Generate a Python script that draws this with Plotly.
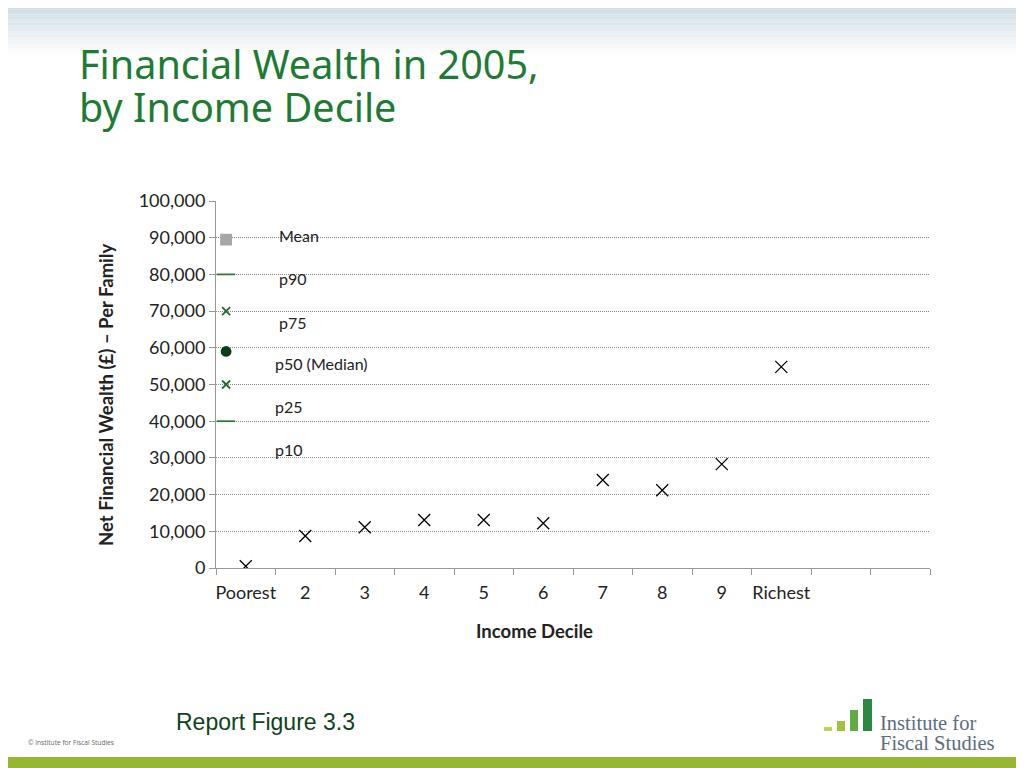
import plotly.graph_objects as go

# ---- data ----
categories = ["Poorest", "2", "3", "4", "5", "6", "7", "8", "9", "Richest", " ", "  "]
decile_labels = ["Poorest", "2", "3", "4", "5", "6", "7", "8", "9", "Richest"]
mean_wealth = [500, 8700, 11100, 13100, 13100, 12200, 24000, 21200, 28300, 54800]

# legend key (drawn inside the plot, as in the original)
key_names = ["Mean", "p90", "p75", "p50 (Median)", "p25", "p10"]
key_marker_y = [89500, 80000, 70000, 59000, 50000, 40000]
key_label_y = [90500, 78800, 67000, 55600, 43900, 32200]
key_symbols = ["square", "line-ew-open", "x-thin-open", "circle", "x-thin-open", "line-ew-open"]
key_colors = ["#A6A6A6", "#2E7A3E", "#1F6B33", "#0B3D17", "#1F6B33", "#2E7A3E"]
key_sizes = [10, 13, 8, 9, 8, 13]
key_label_x = [0.52, 0.52, 0.52, 0.45, 0.45, 0.45]

x_title = "Income Decile"
y_title = "Net Financial Wealth (£) – Per Family"

fig = go.Figure()

fig.add_trace(go.Scatter(
    x=decile_labels, y=mean_wealth, mode="markers",
    marker=dict(symbol="x-thin-open", size=12, color="black",
                line=dict(color="black", width=1.3)),
    showlegend=False, hoverinfo="x+y"))

for name, yv, sym, col, sz in zip(key_names, key_marker_y, key_symbols, key_colors, key_sizes):
    fig.add_trace(go.Scatter(
        x=[-0.33], y=[yv], mode="markers", xaxis="x2",
        marker=dict(symbol=sym, size=sz, color=col, line=dict(color=col, width=1.8)),
        showlegend=False, name=name))

for name, yv, xv in zip(key_names, key_label_y, key_label_x):
    fig.add_annotation(x=xv, y=yv, xref="x2", yref="y", text=name, showarrow=False,
                       xanchor="left", yanchor="middle",
                       font=dict(family="Lato, Open Sans", size=16, color="#222"))


def px(x):
    return (x - 216) / 714


def py(y):
    return (568 - y) / 367


shapes = []
# top gradient band
n = 24
for i in range(n):
    t = i / (n - 1)
    r = int(200 + (255 - 200) * t)
    g = int(216 + (255 - 216) * t)
    b = int(226 + (255 - 226) * t)
    shapes.append(dict(type="rect", xref="paper", yref="paper",
                       x0=px(0), x1=px(1024),
                       y0=py(i * 2.4), y1=py((i + 1) * 2.4),
                       fillcolor=f"rgb({r},{g},{b})", line=dict(width=0), layer="below"))
# bottom green band
shapes.append(dict(type="rect", xref="paper", yref="paper",
                   x0=px(0), x1=px(1024), y0=py(757), y1=py(770),
                   fillcolor="#97B733", line=dict(width=0)))
# logo bars
logo_bars = [(824, 832, 727, "#BFD454"), (837, 845, 721, "#A3C23C"), (850, 858, 710, "#62AA45"), (863, 872, 699, "#2C8A40")]
for x0, x1, ytop, col in logo_bars:
    shapes.append(dict(type="rect", xref="paper", yref="paper",
                       x0=px(x0), x1=px(x1), y0=py(731), y1=py(ytop),
                       fillcolor=col, line=dict(width=0)))

annotations = [
    dict(x=px(77), y=py(64), text="Financial Wealth in 2005,", showarrow=False,
         xref="paper", yref="paper", xanchor="left", yanchor="middle", align="left",
         font=dict(family="Noto Sans, Open Sans", size=39.6, color="#1E7B34")),
    dict(x=px(77), y=py(107), text="by Income Decile", showarrow=False,
         xref="paper", yref="paper", xanchor="left", yanchor="middle", align="left",
         font=dict(family="Noto Sans, Open Sans", size=39.6, color="#1E7B34")),
    dict(x=px(534), y=py(631), text=f"<b>{x_title}</b>", showarrow=False,
         xref="paper", yref="paper", xanchor="center", yanchor="middle",
         font=dict(family="Lato, Open Sans", size=18.5, color="#222")),
    dict(x=px(106), y=py(395), text=f"<b>{y_title}</b>", showarrow=False, textangle=-90,
         xref="paper", yref="paper", xanchor="center", yanchor="middle",
         font=dict(family="Lato, Open Sans", size=18.5, color="#222")),
    dict(x=px(174), y=py(722), text="Report Figure 3.3", showarrow=False,
         xref="paper", yref="paper", xanchor="left", yanchor="middle",
         font=dict(family="Liberation Sans, Arial", size=23, color="#10421C")),
    dict(x=px(26), y=py(742), text="© Institute for Fiscal Studies", showarrow=False,
         xref="paper", yref="paper", xanchor="left", yanchor="middle",
         font=dict(family="Open Sans", size=6.6, color="#666")),
    dict(x=px(878), y=py(723), text="Institute for", showarrow=False,
         xref="paper", yref="paper", xanchor="left", yanchor="middle",
         font=dict(family="Liberation Serif, DejaVu Serif", size=20.5, color="#5B6D7E")),
    dict(x=px(878), y=py(743), text="Fiscal Studies", showarrow=False,
         xref="paper", yref="paper", xanchor="left", yanchor="middle",
         font=dict(family="Liberation Serif, DejaVu Serif", size=20.5, color="#5B6D7E")),
]
for a in annotations:
    fig.add_annotation(**a)

fig.update_layout(
    width=1016, height=760,
    margin=dict(l=208, r=94, t=193, b=200, autoexpand=False),
    paper_bgcolor="white", plot_bgcolor="white",
    shapes=shapes,
    showlegend=False,
    xaxis=dict(type="category", categoryorder="array", categoryarray=categories,
               range=[-0.5, 11.5], tickson="boundaries", ticks="outside", ticklen=6,
               tickangle=0, ticklabelstandoff=8,
               tickcolor="#999", showline=True, linecolor="#999", linewidth=1,
               showgrid=False, zeroline=False,
               tickfont=dict(family="Lato, Open Sans", size=18, color="#222")),
    xaxis2=dict(overlaying="x", range=[-0.5, 11.5], visible=False, showgrid=False, zeroline=False),
    yaxis=dict(range=[0, 100000], dtick=10000, tickformat=",", ticks="outside", ticklen=6,
               tickcolor="#999", showline=True, linecolor="#999", linewidth=1,
               showgrid=True, gridcolor="#888", griddash="1px,1px", gridwidth=1, zeroline=False,
               tickfont=dict(family="Lato, Open Sans", size=18, color="#222")),
)

fig.write_html("out.html")
